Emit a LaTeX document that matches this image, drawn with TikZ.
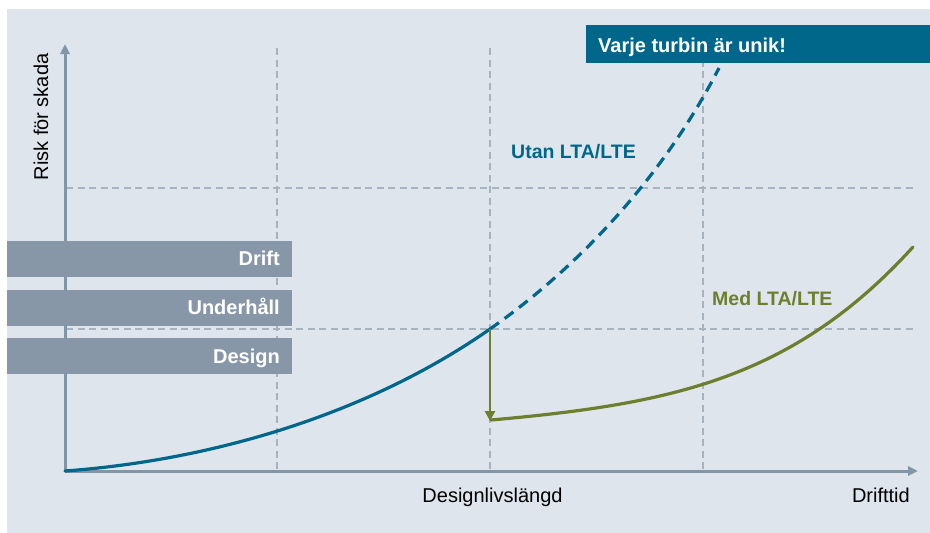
\documentclass[tikz,border=0pt]{standalone}
\usepackage{fontspec}
\setmainfont{Liberation Sans}
\usetikzlibrary{arrows.meta}
\definecolor{panel}{HTML}{DEE5ED}
\definecolor{barcol}{HTML}{8797A8}
\definecolor{axiscol}{HTML}{8396A7}
\definecolor{gridcol}{HTML}{A7B3BF}
\definecolor{tealblue}{HTML}{00678A}
\definecolor{olive}{HTML}{6C7F2D}
\begin{document}
\begin{tikzpicture}[x=1pt,y=-1pt,
  gridline/.style={draw=gridcol,line width=1.2pt,dash pattern=on 7pt off 4.5pt},
  axisline/.style={draw=axiscol,line width=3pt,-{Triangle[length=10pt,width=9pt]}},
  barbox/.style={rectangle,fill=barcol,inner sep=0pt,minimum width=285pt,minimum height=36pt,anchor=north west},
  barlabel/.style={anchor=base east,text=white,inner sep=0pt,font=\fontsize{20}{24}\selectfont\bfseries},
  bluecurve/.style={draw=tealblue,line width=3.2pt},
  greencurve/.style={draw=olive,line width=3.2pt,line cap=round},
  plaintext/.style={inner sep=0pt,font=\fontsize{20}{24}\selectfont},
  boldlabel/.style={inner sep=0pt,anchor=base west,font=\fontsize{19.5}{24}\selectfont\bfseries}]
\useasboundingbox (0,0) rectangle (930,533);
\fill[white] (0,0) rectangle (930,533);
\fill[panel] (7,9) rectangle (930,533);
% grid
\foreach \x in {277,490,703} \draw[gridline] (\x,48) -- (\x,470);
\foreach \y in {188,329} \draw[gridline] (66,\y) -- (915,\y);
% axes
\coordinate (O) at (65,471);
\coordinate (Ytop) at (65,44);
\coordinate (Xend) at (918,471);
\draw[axisline] (O) -- (Ytop);
\draw[axisline] (O) -- (Xend);
% bars
\node[barbox] (drift) at (7,241) {};
\node[barbox] (underhall) at (7,290) {};
\node[barbox] (design) at (7,338) {};
\node[barlabel] (tdrift) at (280,265) {Drift};
\node[barlabel] (tunderhall) at (280,314) {Underhåll};
\node[barlabel] (tdesign) at (280,363) {Design};
% blue curve
\coordinate (B0) at (65,471);
\coordinate (B1) at (490,329);
\coordinate (B2) at (719,68);
\draw[bluecurve,line cap=round] (B0) .. controls (215,460) and (370,413) .. (B1);
\draw[bluecurve,dash pattern=on 11pt off 7pt] (B1) .. controls (570,273) and (659,185) .. (B2);
% green
\coordinate (G0) at (490,329);
\coordinate (G1) at (490,421);
\coordinate (G2) at (491,420);
\coordinate (G3) at (913,247);
\draw[draw=olive,line width=2.5pt,-{Triangle[length=10pt,width=10pt]}] (G0) -- (G1);
\draw[greencurve] (G2) .. controls (671,404) and (793,379) .. (G3);
% banner
\node[rectangle,fill=tealblue,inner sep=0pt,minimum width=344pt,minimum height=38pt,anchor=north west] (banner) at (586,25) {};
\node[inner sep=0pt,anchor=base west,text=white,font=\fontsize{20}{24}\selectfont\bfseries] (bannertext) at (598,52) {Varje turbin är unik!};
% labels
\node[boldlabel,text=tealblue] (utan) at (511,158) {Utan LTA/LTE};
\node[boldlabel,text=olive] (med) at (712,305) {Med LTA/LTE};
\node[plaintext,anchor=base] (dl) at (492.5,502) {Designlivslängd};
\node[plaintext,anchor=base east] (dt) at (910,502) {Drifttid};
\node[plaintext,rotate=90] (risk) at (41,117) {Risk för skada};
\end{tikzpicture}
\end{document}
